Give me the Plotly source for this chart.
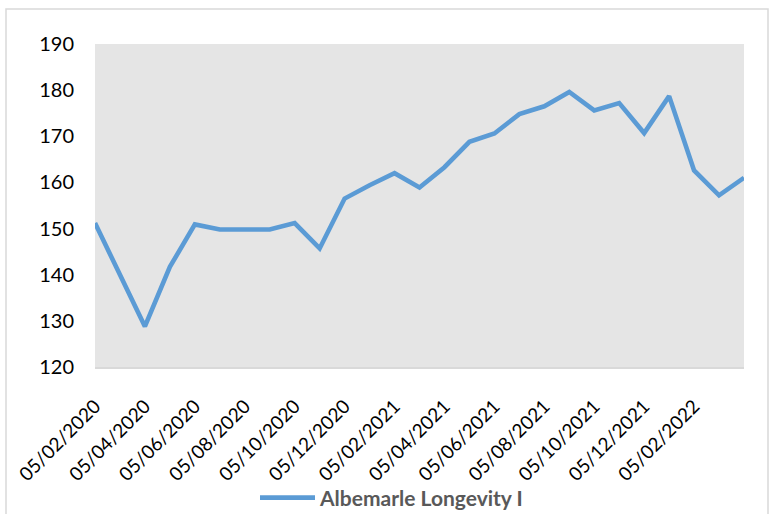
import plotly.graph_objects as go

# Monthly observation dates (dd/mm/yyyy)
dates = [
    "05/02/2020", "05/03/2020", "05/04/2020", "05/05/2020", "05/06/2020",
    "05/07/2020", "05/08/2020", "05/09/2020", "05/10/2020", "05/11/2020",
    "05/12/2020", "05/01/2021", "05/02/2021", "05/03/2021", "05/04/2021",
    "05/05/2021", "05/06/2021", "05/07/2021", "05/08/2021", "05/09/2021",
    "05/10/2021", "05/11/2021", "05/12/2021", "05/01/2022", "05/02/2022",
    "05/03/2022", "05/04/2022",
]

# Series values
longevity = [
    151.2, 139.8, 128.8, 141.7, 150.9,
    149.8, 149.8, 149.8, 151.2, 145.7,
    156.5, 159.4, 162.0, 158.9, 163.3,
    168.8, 170.6, 174.8, 176.5, 179.6,
    175.6, 177.2, 170.7, 178.7, 162.6,
    157.2, 161.0,
]

series_name = "Albemarle Longevity I"

# Labelled ticks: every second month
tick_labels = dates[:25:2]
y_ticks = [120, 130, 140, 150, 160, 170, 180, 190]

fig = go.Figure()
fig.add_trace(go.Scatter(
    x=dates,
    y=longevity,
    mode="lines",
    name=series_name,
    line=dict(color="#5B9BD5", width=4.6),
    showlegend=True,
))

W, H = 769, 514
ml, mr, mt, mb = 95, 25, 44, 147
pw, ph = W - ml - mr, H - mt - mb


def px_to_paper(x, y):
    return (x - ml) / pw, (H - mb - y) / ph


x0, y0 = px_to_paper(6, 9)
x1, y1 = px_to_paper(768, 560)
legend_x, legend_y = px_to_paper(392, 498)

fig.update_layout(
    width=W,
    height=H,
    margin=dict(l=ml, r=mr, t=mt, b=mb, autoexpand=False),
    paper_bgcolor="white",
    plot_bgcolor="#E5E5E5",
    font=dict(family="Lato, Carlito, sans-serif", size=20, color="#000000"),
    showlegend=True,
    legend=dict(
        orientation="h",
        x=legend_x,
        xanchor="center",
        y=legend_y,
        yanchor="middle",
        font=dict(size=21, color="#595959", family="Lato, sans-serif", weight="bold"),
        itemwidth=55,
        bgcolor="rgba(0,0,0,0)",
    ),
    xaxis=dict(
        type="category",
        range=[0, len(dates) - 1],
        tickmode="array",
        tickvals=tick_labels,
        ticktext=tick_labels,
        tickangle=-45,
        ticks="",
        showgrid=False,
        zeroline=False,
        showline=True,
        linecolor="#D9D9D9",
        linewidth=1.5,
        ticklabelstandoff=19,
        tickfont=dict(size=19),
        automargin=False,
    ),
    yaxis=dict(
        range=[120, 190],
        tickmode="array",
        tickvals=y_ticks,
        ticks="",
        showgrid=False,
        zeroline=False,
        showline=False,
        ticklabelstandoff=20,
        tickfont=dict(size=20),
        automargin=False,
    ),
    shapes=[
        dict(
            type="rect",
            xref="paper",
            yref="paper",
            x0=x0, y0=y1, x1=x1, y1=y0,
            line=dict(color="#D9D9D9", width=1.5),
            fillcolor="rgba(0,0,0,0)",
            layer="below",
        )
    ],
)

fig.write_html("out.html")
